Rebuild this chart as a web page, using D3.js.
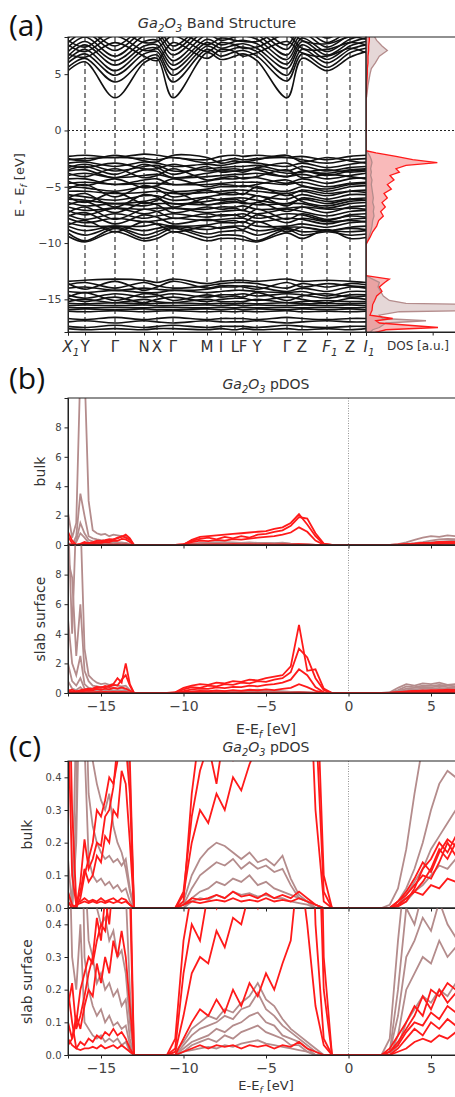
<!DOCTYPE html>
<html>
<head>
<meta charset="utf-8">
<script src="https://cdn.jsdelivr.net/npm/d3@7"></script>
<style>
  body { margin: 0; background: #fff; }
  svg { display: block; }
</style>
</head>
<body>
<div id="fig"></div>
<script>
// ---------- (a) band structure ----------
const kLabels = ["X_1", "Y", "Γ", "N", "X", "Γ", "M", "I", "L", "F", "Y", "Γ", "Z", "F_1", "Z", "I_1"];
const kDist = [0, 0.17, 0.47, 0.76, 0.89, 1.05, 1.39, 1.53, 1.67, 1.75, 1.89, 2.19, 2.34, 2.59, 2.82, 2.98];
const energyTicks = [-15, -10, -5, 0, 5];

const bandsConduction = [
  [5.3, 6.1, 2.9, 6.0, 6.4, 2.9, 6.9, 6.3, 6.6, 6.8, 6.2, 2.9, 6.4, 5.3, 6.5, 7.0],
  [5.6, 6.4, 4.3, 6.3, 6.7, 4.3, 7.2, 6.6, 7.0, 7.1, 6.6, 4.4, 6.8, 5.6, 6.9, 7.3],
  [6.0, 6.8, 4.9, 6.8, 7.0, 4.9, 7.5, 7.0, 7.3, 7.4, 7.0, 4.9, 7.2, 6.0, 7.2, 7.6],
  [6.3, 7.2, 5.3, 7.2, 7.3, 5.4, 7.8, 7.3, 7.6, 7.7, 7.3, 5.5, 7.6, 6.3, 7.5, 7.9],
  [6.6, 7.6, 5.8, 7.5, 7.6, 5.8, 8.1, 7.6, 7.9, 8.0, 7.7, 5.9, 7.9, 6.7, 7.8, 8.2],
  [7.0, 7.9, 6.2, 7.9, 8.0, 6.2, 8.5, 8.0, 8.3, 8.4, 8.1, 6.3, 8.2, 7.0, 8.1, 8.5],
  [7.4, 8.3, 6.6, 8.4, 8.4, 6.7, 8.9, 8.4, 8.7, 8.8, 8.5, 6.7, 8.6, 7.4, 8.5, 8.9],
  [7.8, 8.7, 7.1, 8.8, 8.8, 7.1, 9.3, 8.8, 9.1, 9.2, 8.9, 7.2, 9.0, 7.8, 8.9, 9.3],
  [8.2, 9.0, 7.5, 9.2, 9.2, 7.5, 9.6, 9.2, 9.5, 9.6, 9.3, 7.6, 9.4, 8.2, 9.3, 9.7],
  [6.8, 6.5, 7.8, 6.6, 6.2, 7.8, 6.4, 7.2, 7.0, 6.6, 6.9, 7.9, 6.9, 6.6, 7.3, 6.9],
  [7.6, 7.0, 8.4, 7.1, 7.3, 8.4, 7.0, 7.8, 7.6, 7.3, 7.4, 8.5, 7.3, 7.2, 7.8, 7.6],
  [8.0, 7.4, 8.9, 7.8, 7.9, 8.9, 7.6, 8.2, 8.0, 7.9, 7.9, 9.0, 8.0, 7.7, 8.3, 8.1]
];

const bandsValence = [
  [-2.3, -2.2, -2.4, -2.1, -2.2, -2.4, -2.6, -2.3, -2.2, -2.3, -2.2, -2.4, -2.3, -2.6, -2.3, -2.2],
  [-2.6, -2.5, -2.4, -2.5, -2.6, -2.4, -2.9, -2.7, -2.5, -2.6, -2.5, -2.4, -2.6, -2.9, -2.6, -2.5],
  [-2.9, -2.8, -3.2, -2.8, -2.9, -3.2, -3.0, -3.1, -2.9, -2.8, -2.9, -3.2, -2.9, -3.3, -3.0, -2.8],
  [-3.3, -3.0, -3.6, -3.2, -3.1, -3.6, -3.4, -3.3, -3.2, -3.2, -3.1, -3.6, -3.2, -3.6, -3.3, -3.2],
  [-3.6, -3.5, -4.2, -3.5, -3.6, -4.2, -3.8, -3.6, -3.6, -3.5, -3.5, -4.1, -3.6, -4.0, -3.6, -3.5],
  [-4.0, -3.8, -4.2, -4.0, -3.9, -4.2, -4.1, -4.0, -3.9, -3.9, -3.8, -4.1, -3.9, -4.3, -4.0, -3.8],
  [-4.3, -4.3, -4.8, -4.4, -4.3, -4.8, -4.5, -4.3, -4.3, -4.2, -4.2, -4.7, -4.3, -4.7, -4.3, -4.2],
  [-4.7, -4.6, -4.8, -4.7, -4.7, -4.8, -4.8, -4.7, -4.6, -4.6, -4.6, -4.8, -4.6, -5.0, -4.7, -4.6],
  [-5.0, -5.1, -5.4, -5.0, -5.0, -5.4, -5.2, -5.0, -5.0, -4.9, -5.1, -5.4, -5.0, -5.4, -5.0, -4.9],
  [-5.4, -5.4, -5.6, -5.5, -5.4, -5.6, -5.5, -5.4, -5.3, -5.3, -5.4, -5.6, -5.4, -5.8, -5.4, -5.3],
  [-5.7, -5.9, -6.2, -5.8, -5.8, -6.2, -5.9, -5.7, -5.7, -5.6, -5.8, -6.1, -5.7, -6.1, -5.7, -5.7],
  [-6.1, -6.2, -6.5, -6.3, -6.1, -6.5, -6.3, -6.1, -6.0, -6.0, -6.2, -6.5, -6.1, -6.5, -6.1, -6.0],
  [-6.4, -6.7, -6.5, -6.7, -6.5, -6.5, -6.6, -6.5, -6.4, -6.4, -6.6, -6.5, -6.5, -6.9, -6.5, -6.4],
  [-6.8, -7.1, -6.9, -7.0, -6.9, -6.9, -7.0, -6.8, -6.8, -6.7, -7.0, -6.9, -6.8, -7.3, -6.8, -6.7],
  [-7.1, -7.5, -6.9, -7.4, -7.2, -6.9, -7.3, -7.2, -7.1, -7.1, -7.4, -7.0, -7.2, -7.6, -7.2, -7.1],
  [-7.5, -7.9, -7.4, -7.8, -7.6, -7.4, -7.7, -7.5, -7.5, -7.4, -7.8, -7.4, -7.5, -8.0, -7.5, -7.4],
  [-7.8, -8.2, -7.8, -8.1, -8.0, -7.8, -8.0, -7.9, -7.8, -7.8, -8.1, -7.8, -7.9, -8.3, -7.9, -7.8],
  [-8.2, -8.5, -8.5, -8.5, -8.3, -8.5, -8.4, -8.2, -8.2, -8.1, -8.5, -8.5, -8.3, -8.6, -8.2, -8.1],
  [-8.5, -8.9, -8.5, -8.9, -8.7, -8.5, -8.8, -8.6, -8.5, -8.5, -8.9, -8.6, -8.6, -8.9, -8.6, -8.5],
  [-8.8, -9.3, -8.6, -9.3, -9.0, -8.6, -9.2, -9.0, -8.9, -8.9, -9.3, -8.7, -9.0, -8.9, -9.0, -8.9],
  [-9.1, -9.8, -8.7, -9.6, -9.3, -8.7, -9.5, -9.3, -9.3, -9.4, -9.8, -8.8, -9.3, -9.0, -9.3, -9.2],
  [-3.1, -3.3, -2.9, -3.4, -3.4, -3.0, -3.6, -3.5, -3.4, -3.5, -3.3, -2.9, -3.5, -3.8, -3.5, -3.4],
  [-4.5, -4.9, -4.3, -5.1, -4.9, -4.3, -5.0, -4.8, -4.9, -5.0, -4.8, -4.4, -4.9, -5.2, -4.8, -4.7],
  [-6.0, -5.6, -6.8, -5.7, -5.9, -6.8, -6.0, -6.2, -6.1, -6.3, -5.8, -6.7, -6.0, -6.3, -6.1, -6.2],
  [-7.3, -6.8, -7.9, -7.0, -7.2, -7.8, -7.4, -7.6, -7.5, -7.7, -7.0, -7.9, -7.4, -7.9, -7.6, -7.7],
  [-8.4, -8.0, -9.0, -8.1, -8.3, -9.0, -8.5, -8.7, -8.6, -8.8, -8.1, -9.0, -8.6, -8.9, -8.7, -8.8],
  [-2.5, -2.7, -2.2, -2.7, -2.8, -2.2, -2.4, -2.9, -2.7, -2.8, -2.6, -2.2, -2.8, -2.4, -2.7, -2.9],
  [-3.8, -4.1, -3.4, -4.2, -4.0, -3.4, -4.4, -4.2, -4.1, -4.3, -4.1, -3.5, -4.2, -3.9, -4.1, -4.3],
  [-5.2, -4.8, -5.9, -4.9, -5.2, -5.9, -5.3, -5.6, -5.5, -5.7, -5.0, -5.8, -5.3, -5.6, -5.4, -5.5],
  [-6.6, -6.3, -7.3, -6.4, -6.6, -7.3, -6.8, -7.0, -6.9, -7.1, -6.4, -7.2, -6.8, -7.0, -6.9, -7.0],
  [-7.6, -7.3, -8.3, -7.5, -7.7, -8.3, -7.9, -8.1, -8.0, -8.2, -7.5, -8.2, -7.8, -8.1, -8.0, -8.1],
  [-9.4, -9.9, -9.0, -9.8, -9.6, -9.0, -9.8, -9.6, -9.6, -9.7, -9.9, -9.1, -9.6, -8.8, -9.6, -9.5],
  [-3.5, -3.2, -3.9, -3.0, -3.3, -3.9, -3.2, -3.7, -3.6, -3.7, -3.4, -3.8, -3.7, -3.5, -3.7, -3.6],
  [-5.9, -6.4, -5.5, -6.5, -6.2, -5.5, -6.6, -6.4, -6.3, -6.5, -6.4, -5.6, -6.3, -6.7, -6.3, -6.2]
];

const bandsDeep = [
  [-13.4, -13.3, -13.2, -13.3, -13.5, -13.2, -13.6, -13.4, -13.3, -13.3, -13.4, -13.2, -13.4, -13.3, -13.4, -13.5],
  [-13.7, -13.5, -14.0, -13.5, -13.8, -14.0, -13.8, -13.6, -13.5, -13.5, -13.6, -14.0, -13.6, -13.9, -13.6, -13.7],
  [-14.0, -13.9, -14.2, -14.0, -14.1, -14.2, -14.1, -13.9, -13.9, -13.8, -13.9, -14.3, -14.0, -14.3, -13.9, -14.0],
  [-14.3, -14.4, -14.2, -14.4, -14.4, -14.2, -14.4, -14.3, -14.2, -14.2, -14.3, -14.4, -14.3, -14.7, -14.3, -14.3],
  [-14.6, -14.9, -14.5, -14.8, -14.7, -14.5, -14.8, -14.6, -14.6, -14.5, -14.7, -14.5, -14.6, -14.9, -14.6, -14.6],
  [-14.9, -15.2, -14.8, -15.3, -15.0, -14.8, -15.2, -15.0, -14.9, -14.9, -15.1, -14.8, -15.0, -15.3, -14.9, -15.0],
  [-15.2, -15.0, -15.3, -15.0, -15.2, -15.3, -15.0, -15.2, -15.2, -15.2, -15.0, -15.3, -15.2, -15.1, -15.2, -15.2],
  [-13.6, -14.1, -13.4, -14.2, -13.9, -13.4, -14.0, -13.8, -13.8, -13.9, -14.1, -13.5, -13.9, -13.6, -13.8, -13.9],
  [-14.8, -14.4, -15.1, -14.5, -14.6, -15.1, -14.6, -14.8, -14.7, -14.8, -14.4, -15.1, -14.7, -14.5, -14.8, -14.7],
  [-15.35, -15.4, -15.3, -15.4, -15.35, -15.3, -15.4, -15.35, -15.4, -15.35, -15.4, -15.3, -15.4, -15.35, -15.4, -15.35],
  [-15.55, -15.5, -15.55, -15.5, -15.55, -15.55, -15.5, -15.55, -15.5, -15.55, -15.5, -15.55, -15.5, -15.55, -15.5, -15.55],
  [-15.7, -15.75, -15.7, -15.75, -15.7, -15.7, -15.75, -15.7, -15.75, -15.7, -15.75, -15.7, -15.75, -15.7, -15.75, -15.7],
  [-15.9, -15.85, -15.9, -15.85, -15.9, -15.9, -15.85, -15.9, -15.85, -15.9, -15.85, -15.9, -15.85, -15.9, -15.85, -15.9],
  [-16.05, -16.1, -16.0, -16.1, -16.05, -16.0, -16.1, -16.05, -16.1, -16.05, -16.1, -16.0, -16.1, -16.05, -16.1, -16.05],
  [-16.7, -16.8, -16.6, -16.8, -16.7, -16.6, -16.8, -16.7, -16.7, -16.7, -16.8, -16.6, -16.7, -16.8, -16.7, -16.7],
  [-17.0, -16.9, -17.1, -16.9, -17.0, -17.1, -16.9, -17.0, -17.0, -17.0, -16.9, -17.1, -17.0, -16.9, -17.0, -17.0],
  [-17.4, -17.5, -17.3, -17.5, -17.4, -17.3, -17.5, -17.4, -17.4, -17.4, -17.5, -17.3, -17.4, -17.5, -17.4, -17.4],
  [-17.6, -17.7, -17.6, -17.7, -17.6, -17.6, -17.7, -17.6, -17.7, -17.6, -17.7, -17.6, -17.7, -17.6, -17.7, -17.6]
];

// side DOS of (a): O (red) and Ga (brown)
const dosEnergy = [8.4, 8.0, 7.5, 7.1, 6.6, 6.0, 5.5, 5.0, 4.0, 3.0, 2.8, -1.8, -2.0, -2.3, -2.6, -2.85, -3.1, -3.4, -3.7, -4.0,
  -4.4, -4.8, -5.2, -5.6, -6.0, -6.4, -6.8, -7.2, -7.6, -8.0, -8.5, -9.0, -9.5, -10.0, -10.2, -12.9, -13.2, -13.5, -13.9, -14.3,
  -14.7, -15.1, -15.35, -15.45, -16.0, -16.1, -16.4, -16.7, -16.9, -17.1, -17.5, -17.7, -18.0];
const dosO = [0.5, 0.5, 0.4, 0.4, 0.3, 0.3, 0.2, 0.2, 0.1, 0.05, 0, 0, 1.5, 4.5, 7.0, 10.7, 6.0, 4.5, 5.0, 3.6,
  4.2, 3.2, 3.8, 2.7, 3.2, 2.4, 2.9, 2.2, 2.6, 1.9, 1.6, 1.0, 0.6, 0.1, 0, 0, 3.5, 2.8, 2.0, 2.4,
  1.6, 1.3, 1.1, 1.0, 0.9, 0.8, 0.6, 4.0, 1.5, 2.0, 10.8, 3.0, 1.0];
const dosGa = [1.2, 1.6, 2.4, 3.2, 2.0, 1.4, 0.8, 0.6, 0.3, 0.1, 0, 0, 0.3, 0.6, 0.8, 0.9, 0.8, 0.7, 0.8, 0.7,
  0.9, 0.8, 0.9, 1.0, 1.1, 1.0, 1.2, 1.1, 1.2, 1.0, 0.9, 0.7, 0.4, 0.1, 0, 0, 1.0, 2.0, 1.8, 2.2,
  2.6, 3.5, 6.0, 16, 16, 5.0, 2.0, 2.5, 9.0, 3.0, 2.0, 1.0, 0.5];

// ---------- (b)/(c) projected DOS ----------
const pdosEnergy = [-17, -16.75, -16.5, -16.25, -16, -15.75, -15.5, -15.25, -15, -14.75, -14.5, -14.25, -14, -13.75, -13.5, -13.25, -13,
  -12, -11,
  -10.5, -10, -9.5, -9, -8.5, -8, -7.5, -7, -6.5, -6, -5.5, -5, -4.5, -4, -3.5, -3, -2.5, -2, -1.5, -1,
  0, 1, 2,
  2.5, 3, 3.5, 4, 4.5, 5, 5.5, 6, 6.5, 7];
const pdosTicks = [-15, -10, -5, 0, 5];

const bulkO = [
  [0.05, 0.01, 0, 0.08, 0.21, 0.12, 0.15, 0.2, 0.19, 0.28, 0.3, 0.37, 0.5, 0.55, 0.7, 0.45, 0, 0, 0,
   0, 0.02, 0.35, 0.55, 0.6, 0.65, 0.7, 0.75, 0.8, 0.85, 0.9, 0.95, 1.1, 1.2, 1.5, 2.1, 1.4, 0.6, 0.05, 0, 0, 0, 0,
   0, 0.01, 0.03, 0.05, 0.08, 0.12, 0.18, 0.15, 0.2, 0.18],
  [0.02, 0, 0, 0.03, 0.1, 0.15, 0.2, 0.3, 0.28, 0.33, 0.4, 0.38, 0.45, 0.6, 0.5, 0.35, 0, 0, 0,
   0, 0.05, 0.28, 0.42, 0.5, 0.38, 0.55, 0.45, 0.6, 0.5, 0.7, 0.75, 0.9, 1.0, 1.3, 1.9, 1.8, 0.8, 0.1, 0, 0, 0, 0,
   0, 0.02, 0.04, 0.07, 0.1, 0.09, 0.14, 0.2, 0.16, 0.22],
  [0.9, 0.3, 0.02, 0.02, 0.03, 0.02, 0.025, 0.02, 0.03, 0.02, 0.025, 0.03, 0.02, 0.03, 0.025, 0.01, 0, 0, 0,
   0, 0.01, 0.03, 0.025, 0.03, 0.04, 0.03, 0.05, 0.035, 0.04, 0.03, 0.045, 0.03, 0.04, 0.03, 0.05, 0.03, 0.01, 0, 0, 0, 0, 0,
   0, 0.01, 0.03, 0.05, 0.04, 0.07, 0.06, 0.09, 0.08, 0.1],
  [0.6, 0.1, 0.01, 0.015, 0.02, 0.015, 0.02, 0.015, 0.02, 0.015, 0.02, 0.015, 0.02, 0.015, 0.02, 0.01, 0, 0, 0,
   0, 0.01, 0.02, 0.015, 0.02, 0.025, 0.02, 0.03, 0.02, 0.025, 0.02, 0.03, 0.02, 0.025, 0.02, 0.03, 0.02, 0.01, 0, 0, 0, 0, 0,
   0, 0.005, 0.02, 0.06, 0.12, 0.15, 0.2, 0.17, 0.22, 0.25],
  [0, 0, 0.01, 0.05, 0.12, 0.08, 0.1, 0.16, 0.14, 0.22, 0.2, 0.3, 0.28, 0.42, 0.38, 0.2, 0, 0, 0,
   0, 0.04, 0.2, 0.3, 0.26, 0.35, 0.3, 0.4, 0.36, 0.44, 0.5, 0.55, 0.6, 0.7, 0.85, 1.2, 0.9, 0.3, 0.02, 0, 0, 0, 0,
   0, 0.02, 0.05, 0.09, 0.14, 0.11, 0.17, 0.21, 0.19, 0.24]
];

const bulkGa = [
  [2.2, 0.5, 1.5, 12, 12, 3.0, 1.0, 0.8, 0.7, 0.75, 0.6, 0.7, 0.65, 0.6, 0.55, 0.4, 0, 0, 0,
   0, 0.02, 0.1, 0.15, 0.18, 0.2, 0.19, 0.17, 0.15, 0.17, 0.14, 0.15, 0.13, 0.16, 0.09, 0.04, 0.02, 0.01, 0, 0, 0, 0, 0,
   0.01, 0.06, 0.18, 0.35, 0.5, 0.6, 0.55, 0.65, 0.6, 0.7],
  [0.15, 0, 0.6, 3.5, 2.0, 0.6, 0.45, 0.38, 0.33, 0.3, 0.35, 0.25, 0.2, 0.17, 0.12, 0.05, 0, 0, 0,
   0, 0.01, 0.06, 0.1, 0.12, 0.14, 0.13, 0.15, 0.12, 0.14, 0.12, 0.13, 0.11, 0.12, 0.07, 0.03, 0.02, 0, 0, 0, 0, 0, 0,
   0, 0.02, 0.06, 0.12, 0.2, 0.3, 0.38, 0.42, 0.4, 0.48],
  [0.05, 0, 0.3, 1.5, 0.8, 0.35, 0.25, 0.2, 0.17, 0.15, 0.16, 0.14, 0.15, 0.13, 0.15, 0.06, 0, 0, 0,
   0, 0, 0.03, 0.05, 0.06, 0.08, 0.07, 0.09, 0.08, 0.1, 0.07, 0.08, 0.06, 0.05, 0.04, 0.03, 0.02, 0, 0, 0, 0, 0, 0,
   0, 0.01, 0.04, 0.08, 0.12, 0.18, 0.22, 0.26, 0.3, 0.28],
  [0.02, 0, 0.2, 0.8, 0.5, 0.15, 0.1, 0.08, 0.09, 0.07, 0.08, 0.06, 0.07, 0.05, 0.06, 0.02, 0, 0, 0,
   0, 0, 0.02, 0.03, 0.025, 0.04, 0.03, 0.05, 0.04, 0.045, 0.035, 0.04, 0.03, 0.03, 0.02, 0.015, 0.01, 0, 0, 0, 0, 0, 0,
   0, 0.01, 0.02, 0.05, 0.07, 0.1, 0.13, 0.12, 0.15, 0.14]
];

const slabO = [
  [0.03, 0.05, 0.1, 0.2, 0.25, 0.3, 0.28, 0.35, 0.4, 0.38, 0.5, 0.6, 1.0, 0.7, 2.0, 0.6, 0, 0, 0,
   0.05, 0.35, 0.5, 0.6, 0.55, 0.7, 0.65, 0.8, 0.75, 0.9, 0.85, 1.0, 1.1, 1.2, 1.8, 4.6, 1.5, 1.6, 0.3, 0, 0, 0, 0,
   0.02, 0.06, 0.1, 0.15, 0.12, 0.2, 0.18, 0.22, 0.2, 0.25],
  [0.15, 0.22, 0.08, 0.12, 0.18, 0.25, 0.3, 0.42, 0.35, 0.48, 0.4, 0.55, 0.5, 0.9, 1.2, 0.5, 0, 0, 0,
   0.02, 0.25, 0.4, 0.35, 0.5, 0.45, 0.6, 0.55, 0.7, 0.65, 0.8, 0.75, 0.9, 1.0, 1.4, 3.0, 2.4, 1.0, 0.2, 0, 0, 0, 0,
   0.01, 0.04, 0.08, 0.12, 0.18, 0.14, 0.2, 0.16, 0.19, 0.15],
  [0.1, 0.05, 0.12, 0.08, 0.15, 0.2, 0.18, 0.28, 0.22, 0.3, 0.25, 0.35, 0.3, 0.38, 0.3, 0.15, 0, 0, 0,
   0.01, 0.12, 0.25, 0.3, 0.28, 0.38, 0.33, 0.42, 0.4, 0.5, 0.45, 0.55, 0.6, 0.7, 0.9, 1.6, 1.2, 0.4, 0.05, 0, 0, 0, 0,
   0.01, 0.03, 0.07, 0.1, 0.09, 0.13, 0.11, 0.15, 0.13, 0.17],
  [0.05, 0.03, 0.02, 0.04, 0.03, 0.05, 0.04, 0.06, 0.05, 0.07, 0.06, 0.08, 0.06, 0.07, 0.05, 0.02, 0, 0, 0,
   0, 0.05, 0.1, 0.14, 0.12, 0.17, 0.13, 0.2, 0.15, 0.22, 0.18, 0.25, 0.2, 0.28, 0.35, 0.6, 0.4, 0.15, 0.03, 0, 0, 0, 0,
   0, 0.02, 0.05, 0.08, 0.06, 0.1, 0.08, 0.11, 0.09, 0.12],
  [0.2, 0.1, 0.02, 0.015, 0.02, 0.02, 0.025, 0.02, 0.03, 0.02, 0.025, 0.03, 0.02, 0.03, 0.02, 0.01, 0, 0, 0,
   0, 0.01, 0.02, 0.03, 0.02, 0.03, 0.025, 0.03, 0.02, 0.03, 0.025, 0.03, 0.02, 0.03, 0.025, 0.04, 0.02, 0.01, 0, 0, 0, 0, 0,
   0, 0.01, 0.02, 0.04, 0.05, 0.04, 0.06, 0.05, 0.07, 0.06]
];

const slabGa = [
  [12, 4, 12, 12, 3, 1.2, 0.9, 0.7, 0.6, 0.65, 0.55, 0.6, 0.5, 0.45, 0.5, 0.2, 0, 0, 0,
   0.01, 0.04, 0.08, 0.1, 0.12, 0.11, 0.14, 0.13, 0.16, 0.18, 0.22, 0.17, 0.15, 0.11, 0.08, 0.06, 0.04, 0.02, 0, 0, 0, 0, 0,
   0.05, 0.35, 0.6, 0.5, 0.65, 0.6, 0.7, 0.55, 0.6, 0.5],
  [9, 7.8, 2.5, 6, 1.5, 0.8, 0.5, 0.45, 0.4, 0.42, 0.35, 0.38, 0.3, 0.32, 0.25, 0.1, 0, 0, 0,
   0, 0.03, 0.06, 0.08, 0.09, 0.1, 0.12, 0.11, 0.14, 0.15, 0.19, 0.14, 0.12, 0.09, 0.07, 0.05, 0.03, 0.01, 0, 0, 0, 0, 0,
   0.01, 0.2, 0.45, 0.4, 0.5, 0.48, 0.55, 0.5, 0.45, 0.52],
  [5, 2, 1.2, 2.5, 0.6, 0.35, 0.3, 0.22, 0.25, 0.2, 0.22, 0.18, 0.2, 0.15, 0.17, 0.05, 0, 0, 0,
   0, 0.02, 0.04, 0.05, 0.06, 0.08, 0.07, 0.09, 0.1, 0.12, 0.13, 0.1, 0.09, 0.06, 0.05, 0.04, 0.02, 0, 0, 0, 0, 0, 0,
   0.01, 0.12, 0.3, 0.35, 0.42, 0.38, 0.47, 0.4, 0.36, 0.44],
  [2, 0.8, 0.5, 1, 0.3, 0.2, 0.15, 0.12, 0.14, 0.1, 0.12, 0.09, 0.1, 0.08, 0.09, 0.03, 0, 0, 0,
   0, 0.01, 0.03, 0.04, 0.05, 0.04, 0.06, 0.05, 0.07, 0.08, 0.09, 0.07, 0.06, 0.05, 0.03, 0.03, 0.01, 0, 0, 0, 0, 0, 0,
   0, 0.06, 0.2, 0.25, 0.3, 0.28, 0.35, 0.3, 0.33, 0.3],
  [0.8, 0.3, 0.2, 0.4, 0.1, 0.08, 0.06, 0.05, 0.06, 0.04, 0.05, 0.04, 0.05, 0.03, 0.04, 0.01, 0, 0, 0,
   0, 0.01, 0.015, 0.02, 0.025, 0.02, 0.03, 0.025, 0.035, 0.04, 0.045, 0.035, 0.03, 0.025, 0.02, 0.015, 0.01, 0, 0, 0, 0, 0, 0,
   0, 0.03, 0.1, 0.14, 0.18, 0.16, 0.2, 0.18, 0.22, 0.2]
];

// ---------- drawing ----------
const svg = d3.select("#fig").append("svg")
  .attr("width", 455).attr("height", 1097)
  .style("font-family", "'DejaVu Sans', sans-serif");

const ink = "#333";
const red = "#ff1a1a";
const brown = "#b48c8c";
const minus = d => (d < 0 ? "\u2212" + Math.abs(d) : String(d));

// text with italic / subscript parts: flags "i" italic, "s" subscript
function richText(parent, x, y, parts, size, anchor = "middle") {
  const t = parent.append("text").attr("x", x).attr("y", y)
    .attr("font-size", size).attr("fill", ink).attr("text-anchor", anchor);
  let down = false;
  parts.forEach(([s, f]) => {
    const sp = t.append("tspan").text(s);
    if (f.includes("i")) sp.attr("font-style", "italic");
    if (f.includes("s")) {
      sp.attr("font-size", size * 0.7).attr("dy", size * 0.25);
      down = true;
    } else if (down) {
      sp.attr("dy", -size * 0.25);
      down = false;
    }
  });
  return t;
}

function styleAxis(g, size) {
  g.select(".domain").attr("stroke", "#222");
  g.selectAll(".tick line").attr("stroke", "#222");
  g.selectAll(".tick text").attr("fill", "#444").attr("font-size", size)
    .attr("font-family", "'DejaVu Sans', sans-serif");
}

// panel letters
[["(a)", 36], ["(b)", 389], ["(c)", 757]].forEach(([s, y]) => {
  svg.append("text").attr("x", 9).attr("y", y).text(s)
    .attr("font-family", "'Open Sans', sans-serif").attr("font-size", 30).attr("fill", "#111");
});

// ---- (a) band structure ----
const kx = d3.scaleLinear().domain([0, 2.98]).range([68, 366]);
const ey = d3.scaleLinear().domain([-17.9, 8.3]).range([332, 37]);

svg.append("clipPath").attr("id", "clipBand")
  .append("rect").attr("x", 68).attr("y", 37).attr("width", 298).attr("height", 295);

const bandLine = d3.line()
  .x((d, i) => kx(kDist[i]))
  .y(d => ey(d))
  .curve(d3.curveCatmullRom.alpha(0.5));

svg.append("g").attr("clip-path", "url(#clipBand)")
  .selectAll("path")
  .data([...bandsDeep, ...bandsValence, ...bandsConduction])
  .join("path")
  .attr("d", bandLine)
  .attr("fill", "none")
  .attr("stroke", "#111")
  .attr("stroke-width", 1.6);

// high-symmetry lines
svg.append("g").selectAll("line")
  .data(kDist.slice(1, -1))
  .join("line")
  .attr("x1", d => kx(d)).attr("x2", d => kx(d))
  .attr("y1", 37).attr("y2", 332)
  .attr("stroke", "#222").attr("stroke-width", 1.1).attr("stroke-dasharray", "5,3");

// DOS side panel
const dx = d3.scaleLinear().domain([0, 15]).range([366, 466]);
svg.append("clipPath").attr("id", "clipDos")
  .append("rect").attr("x", 366).attr("y", 37).attr("width", 100).attr("height", 295);

const dosGaPts = dosEnergy.map((e, i) => ({ e, v: dosGa[i] }));
const dosOPts = dosEnergy.map((e, i) => ({ e, v: dosO[i] }));
const dosArea = d3.area().y(d => ey(d.e)).x0(dx(0)).x1(d => dx(d.v));
const dosLine = d3.line().y(d => ey(d.e)).x(d => dx(d.v));
const dosG = svg.append("g").attr("clip-path", "url(#clipDos)");
dosG.append("path").datum(dosGaPts).attr("d", dosArea).attr("fill", "rgba(180,140,140,0.35)");
dosG.append("path").datum(dosOPts).attr("d", dosArea).attr("fill", "rgba(240,90,90,0.42)");
dosG.append("path").datum(dosGaPts).attr("d", dosLine).attr("fill", "none").attr("stroke", brown).attr("stroke-width", 1.3);
dosG.append("path").datum(dosOPts).attr("d", dosLine).attr("fill", "none").attr("stroke", red).attr("stroke-width", 1.3);

// Fermi level dotted line
svg.append("line").attr("x1", 68).attr("x2", 466).attr("y1", ey(0)).attr("y2", ey(0))
  .attr("stroke", "#222").attr("stroke-width", 1.1).attr("stroke-dasharray", "2,2");

// frames
svg.append("rect").attr("x", 68).attr("y", 37).attr("width", 298).attr("height", 295)
  .attr("fill", "none").attr("stroke", "#222");
svg.append("rect").attr("x", 366).attr("y", 37).attr("width", 100).attr("height", 295)
  .attr("fill", "none").attr("stroke", "#222");

const yA = svg.append("g").attr("transform", "translate(68,0)")
  .call(d3.axisLeft(ey).tickValues(energyTicks).tickSize(3.5).tickPadding(3).tickFormat(minus));
styleAxis(yA, 11);

const xA = svg.append("g").attr("transform", "translate(0,332)")
  .call(d3.axisBottom(kx).tickValues(kDist).tickSize(3.5).tickPadding(3).tickFormat(""));
styleAxis(xA, 14);
kLabels.forEach((lab, i) => {
  const [base, sub] = lab.split("_");
  const parts = sub ? [[base, "i"], [sub, "is"]] : [[base, ""]];
  richText(svg, kx(kDist[i]) + (sub ? 3 : 0), 352, parts, 15);
});

const dA = svg.append("g").attr("transform", "translate(0,332)")
  .call(d3.axisBottom(dx).tickValues([0, 10]).tickSize(3.5).tickFormat(""));
styleAxis(dA, 12);
svg.append("text").attr("x", 418).attr("y", 350).attr("text-anchor", "middle")
  .attr("font-size", 12).attr("fill", ink).text("DOS [a.u.]");

richText(svg, 217, 28, [["Ga", "i"], ["2", "is"], ["O", "i"], ["3", "is"], [" Band Structure", ""]], 14.5);

const yLab = svg.append("g").attr("transform", "translate(24,185) rotate(-90)");
richText(yLab, 0, 0, [["E - E", ""], ["f", "is"], [" [eV]", ""]], 13);

// ---- (b) and (c) pDOS ----
const px = d3.scaleLinear().domain([-17, 7]).range([68, 464]);

function pdosPanel(id, top, bottom, yMax, ticks, fmt, showX, labelText, labelX) {
  const py = d3.scaleLinear().domain([0, yMax]).range([bottom, top]);
  svg.append("clipPath").attr("id", id)
    .append("rect").attr("x", 68).attr("y", top).attr("width", 396).attr("height", bottom - top);

  // vertical line at E = 0
  svg.append("line").attr("x1", px(0)).attr("x2", px(0)).attr("y1", top).attr("y2", bottom)
    .attr("stroke", "#777").attr("stroke-width", 0.8).attr("stroke-dasharray", "1,1.5");

  const line = d3.line().x((v, i) => px(pdosEnergy[i])).y(v => py(v));
  const g = svg.append("g").attr("clip-path", `url(#${id})`);
  const ga = labelText === "bulk" ? bulkGa : slabGa;
  const o = labelText === "bulk" ? bulkO : slabO;
  g.selectAll("path.ga").data(ga).join("path").attr("class", "ga")
    .attr("d", line).attr("fill", "none").attr("stroke", brown).attr("stroke-width", 1.8);
  g.selectAll("path.o").data(o).join("path").attr("class", "o")
    .attr("d", line).attr("fill", "none").attr("stroke", red).attr("stroke-width", 1.8);

  svg.append("rect").attr("x", 68).attr("y", top).attr("width", 396).attr("height", bottom - top)
    .attr("fill", "none").attr("stroke", "#222");

  const ya = svg.append("g").attr("transform", "translate(68,0)")
    .call(d3.axisLeft(py).tickValues(ticks).tickSize(3.5).tickPadding(3).tickFormat(fmt));
  styleAxis(ya, 10);

  const xa = svg.append("g").attr("transform", `translate(0,${bottom})`)
    .call(d3.axisBottom(px).tickValues(pdosTicks).tickSize(3.5).tickPadding(5)
      .tickFormat(showX ? minus : ""));
  styleAxis(xa, 14);

  svg.append("text")
    .attr("transform", `translate(${labelX},${(top + bottom) / 2}) rotate(-90)`)
    .attr("text-anchor", "middle").attr("font-size", 14).attr("fill", ink)
    .text(labelText);
}

// (b)
richText(svg, 266, 389, [["Ga", "i"], ["2", "is"], ["O", "i"], ["3", "is"], [" pDOS", ""]], 14);
pdosPanel("cb1", 398, 545, 10, [0, 2, 4, 6, 8], d3.format("d"), false, "bulk", 45);
pdosPanel("cb2", 545, 693, 10, [0, 2, 4, 6, 8], d3.format("d"), true, "slab surface", 45);
richText(svg, 266, 734, [["E-E", ""], ["f", "is"], [" [eV]", ""]], 14);

// (c)
richText(svg, 266, 752, [["Ga", "i"], ["2", "is"], ["O", "i"], ["3", "is"], [" pDOS", ""]], 14);
pdosPanel("cc1", 761, 908, 0.45, [0, 0.1, 0.2, 0.3, 0.4], d3.format(".1f"), false, "bulk", 32);
pdosPanel("cc2", 908, 1055, 0.45, [0, 0.1, 0.2, 0.3, 0.4], d3.format(".1f"), true, "slab surface", 32);
richText(svg, 266, 1090, [["E-E", ""], ["f", "is"], [" [eV]", ""]], 13);
</script>
</body>
</html>
